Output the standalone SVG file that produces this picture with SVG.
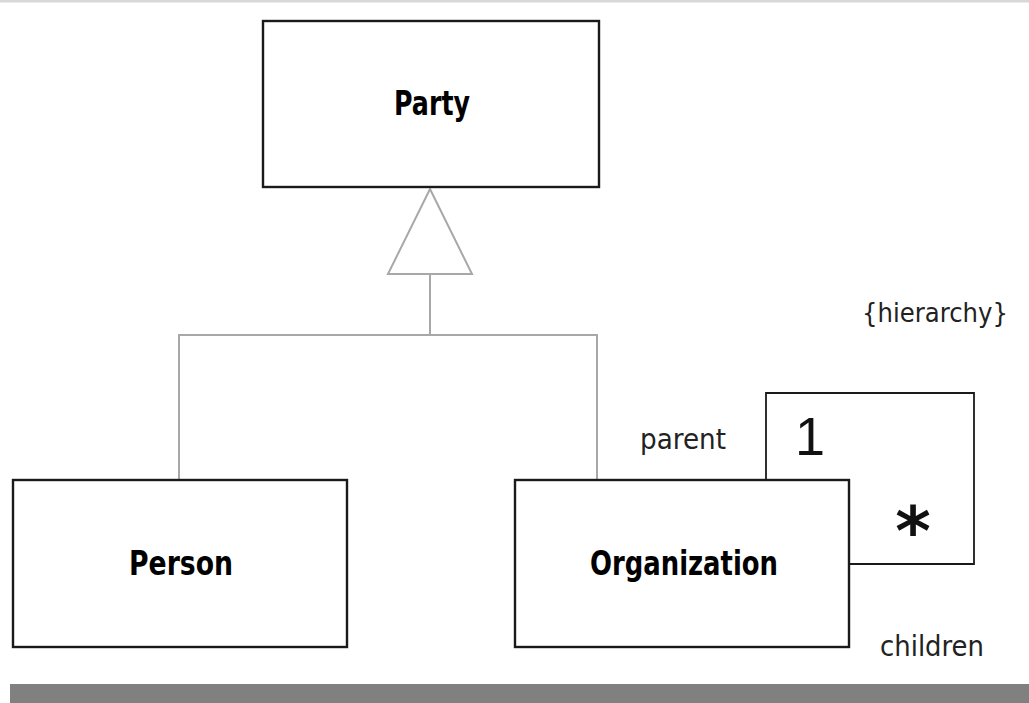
<svg xmlns="http://www.w3.org/2000/svg" width="1029" height="703" viewBox="0 0 1029 703">
<style>
.box{fill:#fff;stroke:#1a1a1a;stroke-width:2.4}
.conn{fill:none;stroke:#a8a8a8;stroke-width:2}
.assoc{fill:none;stroke:#1a1a1a;stroke-width:1.8}
.name{font-family:"DejaVu Sans",sans-serif;font-weight:bold;font-size:33px;fill:#000;text-anchor:middle}
.lbl{font-family:"DejaVu Sans",sans-serif;font-size:29px;fill:#222}
</style>
<rect x="0" y="0" width="1029" height="703" fill="#fff"/>
<rect x="0" y="0" width="1029" height="2.5" fill="#d8d8d8"/>
<rect x="10" y="684" width="1019" height="19" fill="#808080"/>
<g id="connectors">
<polygon class="conn" points="430,189 472,274 388,274" stroke-width="1.6"/>
<polyline class="conn" points="430,274 430,335"/>
<polyline class="conn" points="179,480 179,335 597,335 597,480"/>
<polyline class="assoc" points="766,480 766,393 974,393 974,564 849,564"/>
<text class="lbl" x="640" y="449" textLength="86" lengthAdjust="spacingAndGlyphs">parent</text>
<text x="795" y="455" font-family="Liberation Sans, sans-serif" font-size="54" fill="#111">1</text>
<text x="913" y="555" font-family="DejaVu Sans, sans-serif" font-size="68" font-weight="bold" fill="#111" text-anchor="middle">*</text>
<text class="lbl" x="880" y="656" textLength="104" lengthAdjust="spacingAndGlyphs">children</text>
<text x="862" y="322" font-family="DejaVu Sans, sans-serif" font-size="26" fill="#222" textLength="146" lengthAdjust="spacingAndGlyphs">{hierarchy}</text>
</g>
<g id="party">
<rect class="box" x="263" y="21" width="336" height="166"/>
<text class="name" x="432" y="115" textLength="76" lengthAdjust="spacingAndGlyphs">Party</text>
</g>
<g id="person">
<rect class="box" x="13" y="480" width="334" height="167"/>
<text class="name" x="181" y="575" textLength="104" lengthAdjust="spacingAndGlyphs">Person</text>
</g>
<g id="organization">
<rect class="box" x="515" y="480" width="334" height="167"/>
<text class="name" x="684" y="575" textLength="188" lengthAdjust="spacingAndGlyphs">Organization</text>
</g>
</svg>
